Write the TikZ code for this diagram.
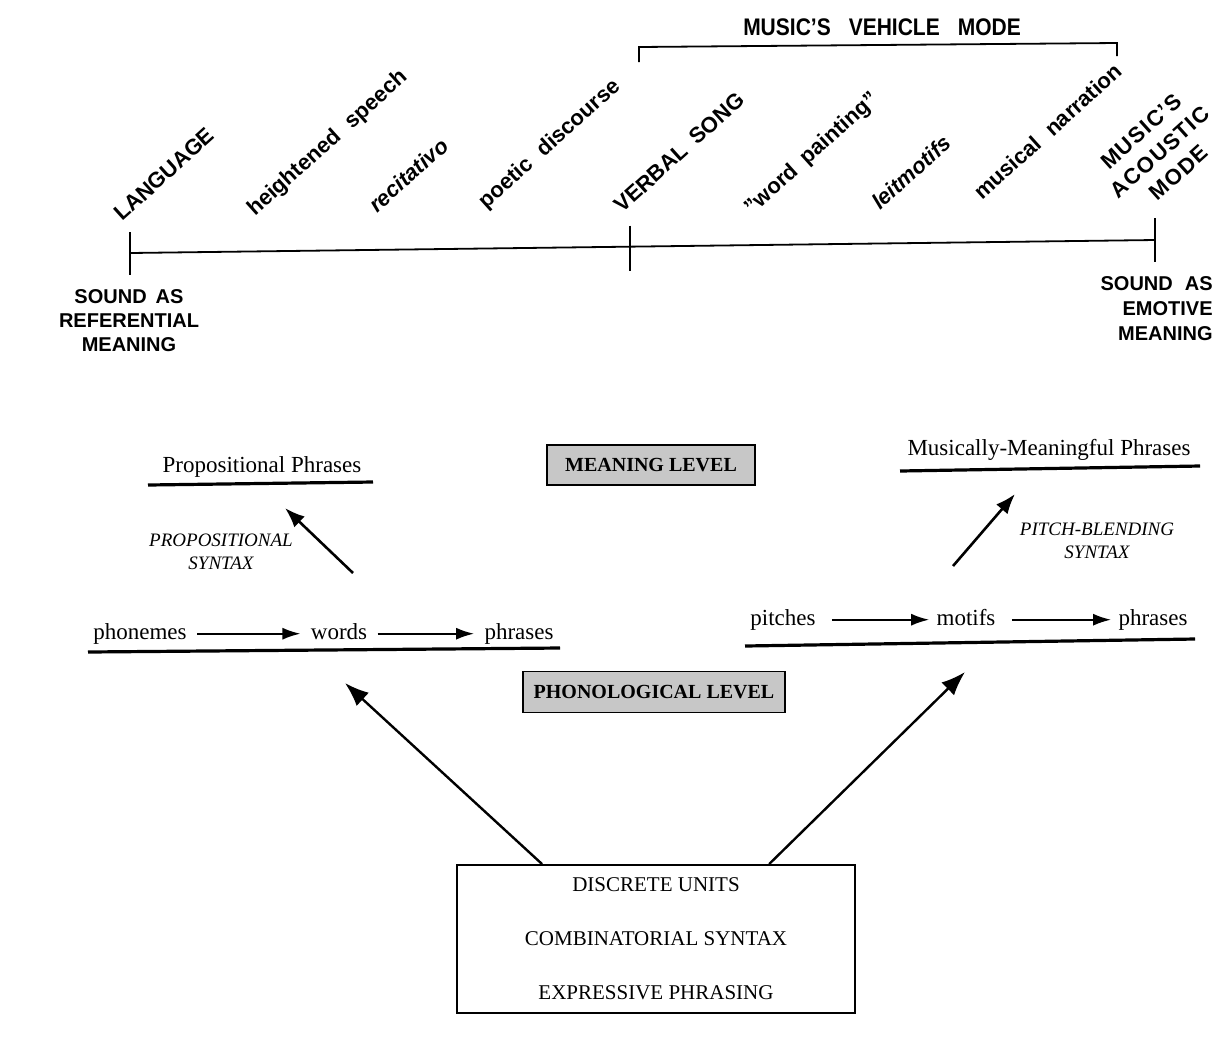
\documentclass[tikz,border=0pt]{standalone}
\usepackage{fontspec}
\setmainfont{Liberation Serif}
\newfontfamily\hsans{Liberation Sans}
\newfontfamily\hsansn[FakeStretch=0.875]{Liberation Sans}
\newfontfamily\hsanssp[LetterSpace=6]{Liberation Sans}
\usetikzlibrary{arrows.meta,calc}
\begin{document}
\begin{tikzpicture}[x=0.5pt,y=-0.5pt,
  toplab/.style={font=\hsans\bfseries\fontsize{11}{13}\selectfont, rotate=42, anchor=base west, inner sep=0pt},
  sidelab/.style={font=\hsans\bfseries\fontsize{10}{12}\selectfont, inner sep=0pt},
  tl/.style={line width=0.9pt},
  uline/.style={line width=1.6pt},
  wordl/.style={font=\fontsize{11.5}{14}\selectfont, inner ysep=0pt, inner xsep=5pt, text height=5.3pt, text depth=0pt, anchor=base},
  wordr/.style={wordl, inner xsep=3.5pt},
  head/.style={font=\fontsize{11.5}{14}\selectfont, inner sep=0pt, anchor=base},
  lvl/.style={draw, line width=0.8pt, fill=black!22, font=\bfseries\fontsize{10}{12}\selectfont, inner sep=0pt},
  slab/.style={font=\itshape\fontsize{9.5}{11.5}\selectfont, align=center, inner sep=0pt},
  harr/.style={-{Latex[length=9pt,width=6pt]}, line width=1pt},
  sarr/.style={-{Latex[length=10pt,width=7.5pt]}, line width=1.3pt},
  barr/.style={-{Latex[length=12pt,width=9pt]}, line width=1.2pt},
]
\useasboundingbox (0,0) rectangle (1219,1045);

% ---------- top scale ----------
\coordinate (t0) at (130,253);
\coordinate (t1) at (630,246.5);
\coordinate (t2) at (1155,240);
\draw[tl] (t0) -- (t2);
\draw[tl] ($(t0)+(0,-21)$) -- ($(t0)+(0,22)$);
\draw[tl] ($(t1)+(0,-21)$) -- ($(t1)+(0,24)$);
\draw[tl] ($(t2)+(0,-22)$) -- ($(t2)+(0,22)$);

% bracket
\coordinate (b0) at (639,62);
\coordinate (b1) at (639,47);
\coordinate (b2) at (1117,43);
\coordinate (b3) at (1117,56);
\draw[tl] (b0) -- (b1) -- (b2) -- (b3);
\node[font=\hsansn\bfseries\fontsize{12}{14}\selectfont, inner sep=0pt, anchor=base] (vm) at (882,35) {MUSIC’S\hspace{9pt}VEHICLE\hspace{9pt}MODE};

% rotated labels
\node[toplab] (lang) at (122,222) {LANGUAGE};
\node[toplab] (heig) at (255,217) {heightened\hspace{0.6em}speech};
\node[toplab, font=\hsans\bfseries\itshape\fontsize{11}{13}\selectfont] (reci) at (377,214) {recitativo};
\node[toplab] (poet) at (486,210) {poetic\hspace{0.6em}discourse};
\node[toplab] (verb) at (622,214) {VERBAL\hspace{0.5em}SONG};
\node[toplab] (wpai) at (752,216) {”word\hspace{0.5em}painting”};
\node[toplab, font=\hsans\bfseries\itshape\fontsize{11}{13}\selectfont] (leit) at (880,211) {leitmotifs};
\node[toplab] (narr) at (982,201) {musical\hspace{0.6em}narration};
\node[font=\hsanssp\bfseries\fontsize{11}{14}\selectfont, rotate=42, align=center, inner sep=0pt] (acou) at (1160,152) {MUSIC’S\\ACOUSTIC\\MODE};

\node[sidelab, align=center] (refm) at (129,321) {SOUND\hspace{0.45em}AS\\REFERENTIAL\\MEANING};
\node[sidelab, align=right, font=\hsans\bfseries\fontsize{10}{12.5}\selectfont, anchor=east] (emom) at (1213,309) {SOUND\hspace{0.6em}AS\\EMOTIVE\\MEANING};

% ---------- levels ----------
\node[lvl, minimum width=104pt, minimum height=20pt] (meaning) at (651,465) {MEANING LEVEL};
\node[lvl, minimum width=131pt, minimum height=20.5pt] (phono) at (654,692) {PHONOLOGICAL LEVEL};

% left (language) side
\node[head] (pp) at (262,472) {Propositional Phrases};
\draw[uline] (148,485) -- (373,482);
\coordinate (ps0) at (353,573);
\coordinate (ps1) at (285,508);
\draw[sarr] (ps0) -- (ps1);
\node[slab] (pslab) at (221,552) {PROPOSITIONAL\\SYNTAX};

\node[wordl] (phon) at (140,639) {phonemes};
\node[wordl] (words) at (339,639) {words};
\node[wordl] (phr1) at (519,639) {phrases};
\draw[harr] (phon) -- (words);
\draw[harr] (words) -- (phr1);
\draw[uline] (88,652) -- (560,648);

% right (music) side
\node[head] (mmp) at (1049,455) {Musically-Meaningful Phrases};
\draw[uline] (900,471) -- (1200,466);
\coordinate (pb0) at (953,566);
\coordinate (pb1) at (1015,494);
\draw[sarr] (pb0) -- (pb1);
\node[slab] (pblab) at (1097,541) {PITCH-BLENDING\\SYNTAX};

\node[wordr] (pitc) at (783,625) {pitches};
\node[wordr] (moti) at (966,625) {motifs};
\node[wordr] (phr2) at (1153,625) {phrases};
\draw[harr, shorten <=4.5pt] (pitc) -- (moti);
\draw[harr, shorten <=4.5pt] (moti) -- (phr2);
\draw[uline] (745,646) -- (1195,639);

% ---------- base box ----------
\node[draw, line width=0.9pt, minimum width=199pt, minimum height=74pt, align=center, inner sep=0pt,
      font=\fontsize{10.5}{27}\selectfont] (base) at (656,939)
      {DISCRETE UNITS\\COMBINATORIAL SYNTAX\\EXPRESSIVE PHRASING};
\coordinate (L1) at (345,683);
\coordinate (R1) at (965,672);
\draw[barr] ($(base.north west)+(86,0)$) -- (L1);
\draw[barr] ($(base.north west)+(313,0)$) -- (R1);
\end{tikzpicture}
\end{document}
